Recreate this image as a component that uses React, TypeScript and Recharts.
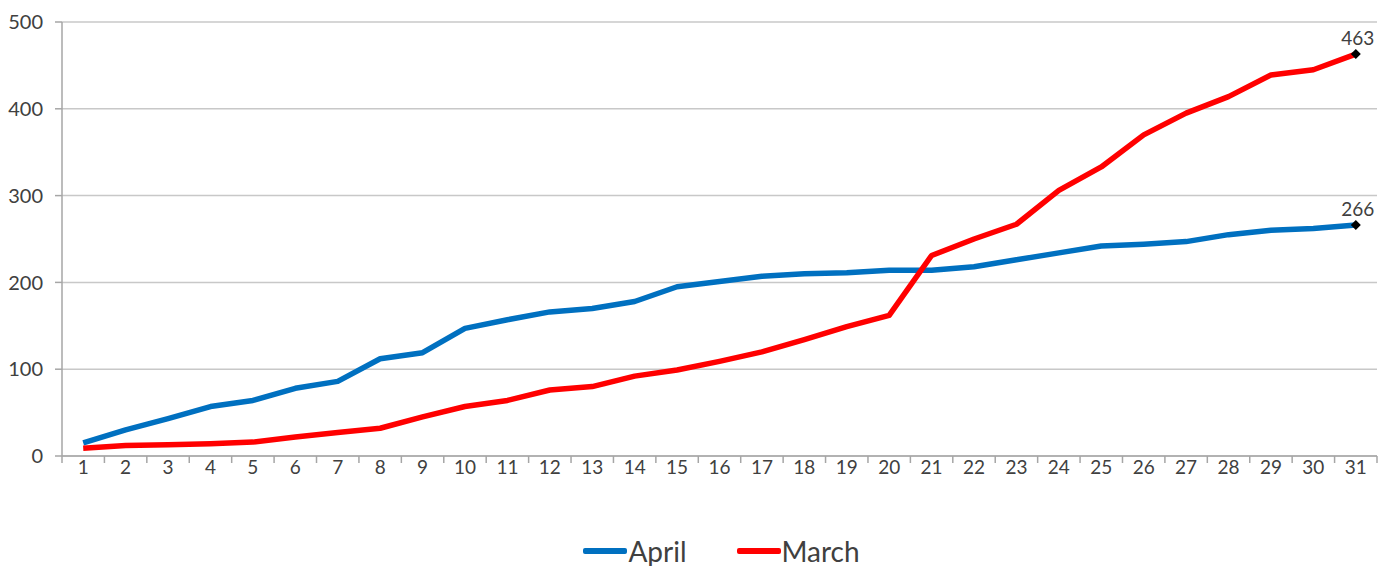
import React from 'react';
import { LineChart, Line, XAxis, YAxis, CartesianGrid, Legend, LabelList } from 'recharts';

const days = [1,2,3,4,5,6,7,8,9,10,11,12,13,14,15,16,17,18,19,20,21,22,23,24,25,26,27,28,29,30,31];
const april = [15,30,43,57,64,78,86,112,119,147,157,166,170,178,195,201,207,210,211,214,214,218,226,234,242,244,247,255,260,262,266];
const march = [9,12,13,14,16,22,27,32,45,57,64,76,80,92,99,109,120,134,149,162,231,250,267,306,333,370,395,414,439,445,463];
const yTicks = [0,100,200,300,400,500];
const bandEdges = [0.5,1.5,2.5,3.5,4.5,5.5,6.5,7.5,8.5,9.5,10.5,11.5,12.5,13.5,14.5,15.5,16.5,17.5,18.5,19.5,20.5,21.5,22.5,23.5,24.5,25.5,26.5,27.5,28.5,29.5,30.5,31.5];

const data = days.map((d, i) => ({ day: d, April: april[i], March: march[i] }));
const xTicks = [...bandEdges, ...days].sort((a, b) => a - b);

const FONT = 'Lato, "Open Sans", sans-serif';
const TEXT = '#404040';
const AXIS = '#a6a6a6';

const XTick = (props: any) => {
  const { x, y, payload } = props;
  const v = payload.value;
  if (Number.isInteger(v)) {
    return (
      <text x={x} y={y + 18} textAnchor="middle" fontSize={19} fill={TEXT} fontFamily={FONT}>
        {v}
      </text>
    );
  }
  return <line x1={x} y1={y} x2={x} y2={y + 7} stroke={AXIS} strokeWidth={1.5} />;
};

const EndDot = (props: any) => {
  const { cx, cy, index } = props;
  if (index !== days.length - 1) return null;
  const s = 5;
  return (
    <path
      d={`M${cx},${cy - s} L${cx + s},${cy} L${cx},${cy + s} L${cx - s},${cy} Z`}
      fill="#000"
    />
  );
};

const EndLabel = (props: any) => {
  const { x, y, value, index } = props;
  if (index !== days.length - 1) return null;
  return (
    <text x={x + 2} y={y - 9} textAnchor="middle" fontSize={19} fill={TEXT} fontFamily={FONT}>
      {value}
    </text>
  );
};

const LegendContent = () => (
  <div style={{ display: 'flex', justifyContent: 'center', alignItems: 'center', height: 30, paddingLeft: 66, fontFamily: FONT, fontSize: 28, color: TEXT }}>
    <div style={{ display: 'flex', alignItems: 'center', marginRight: 50 }}>
      <div style={{ width: 44, height: 6, background: '#0070C0', borderRadius: 2 }} />
      <span style={{ marginLeft: 1 }}>April</span>
    </div>
    <div style={{ display: 'flex', alignItems: 'center' }}>
      <div style={{ width: 44, height: 6, background: '#FF0000', borderRadius: 2 }} />
      <span style={{ marginLeft: 1 }}>March</span>
    </div>
  </div>
);

export default function App() {
  return (
    <div style={{ position: 'absolute', left: 0, top: 0, width: 1397, height: 566, background: '#fff' }}>
      <LineChart width={1397} height={566} data={data} margin={{ top: 22, right: 20, left: 0, bottom: 0 }}>
        <CartesianGrid vertical={false} stroke="#c8c8c8" strokeWidth={1.5} />
        <XAxis
          dataKey="day"
          type="number"
          domain={[0.5, 31.5]}
          ticks={xTicks}
          interval={0}
          tick={<XTick />}
          tickLine={false}
          tickSize={0}
          tickMargin={0}
          axisLine={{ stroke: AXIS, strokeWidth: 1.5 }}
          height={80}
          allowDataOverflow
        />
        <YAxis
          domain={[0, 500]}
          ticks={yTicks}
          interval={0}
          width={62}
          tickSize={7}
          tickMargin={12}
          tickLine={{ stroke: AXIS, strokeWidth: 1.5 }}
          axisLine={{ stroke: AXIS, strokeWidth: 1.5 }}
          tick={{ fill: TEXT, fontSize: 20, fontFamily: FONT }}
        />
        <Legend verticalAlign="bottom" content={<LegendContent />} />
        <Line dataKey="April" stroke="#0070C0" strokeWidth={5.5} dot={<EndDot />} activeDot={false} isAnimationActive={false} strokeLinejoin="round">
          <LabelList dataKey="April" content={<EndLabel />} />
        </Line>
        <Line dataKey="March" stroke="#FF0000" strokeWidth={5.5} dot={<EndDot />} activeDot={false} isAnimationActive={false} strokeLinejoin="round">
          <LabelList dataKey="March" content={<EndLabel />} />
        </Line>
      </LineChart>
    </div>
  );
}
